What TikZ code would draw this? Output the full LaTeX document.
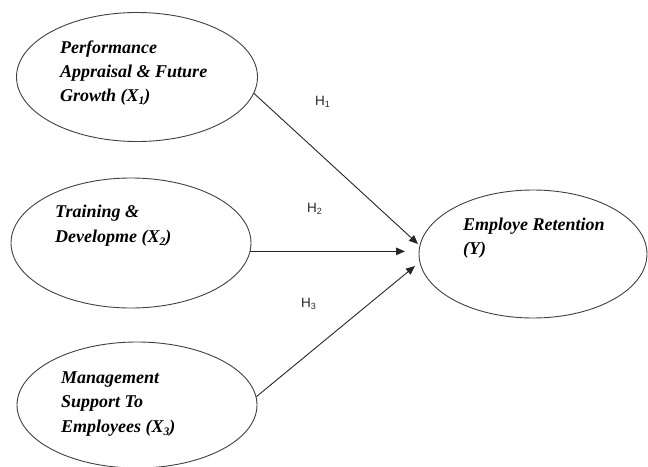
\documentclass[tikz,border=0pt]{standalone}
\usepackage{fontspec}
\setmainfont{Liberation Serif}
\newfontfamily\hfont{Liberation Sans}
\usetikzlibrary{arrows.meta,shapes.geometric}
\newcommand\subsc[1]{\raisebox{-0.22em}{\fontsize{11.5}{11.5}\selectfont #1}}
\newcommand\hsub[1]{\raisebox{-0.2em}{\fontsize{9}{9}\selectfont #1}}
\begin{document}
\begin{tikzpicture}[x=1pt,y=-1pt,
  ell/.style={draw=black!75, line width=0.9pt, ellipse, inner sep=0pt},
  txt/.style={anchor=base west, inner sep=0pt, font=\fontsize{18}{21}\selectfont\bfseries\itshape},
  hlab/.style={anchor=base west, inner sep=0pt, text=black!85, font=\fontsize{13.5}{15}\selectfont\hfont},
  arr/.style={draw=black!85, line width=0.9pt, -{Triangle[length=9pt,width=7.5pt]}}]
\useasboundingbox (0,0) rectangle (648,466);
% ellipses
\node[ell, minimum width=241pt, minimum height=129pt] (e1) at (137,77) {};
\node[ell, minimum width=240pt, minimum height=130pt] (e2) at (131,243) {};
\node[ell, minimum width=240pt, minimum height=126pt] (e3) at (137,405) {};
\node[ell, minimum width=228pt, minimum height=128pt] (e4) at (533,254) {};
% texts
\node[txt] (a1) at (60,53) {Performance};
\node[txt] (a2) at (60,77) {Appraisal \& Future};
\node[txt] (a3) at (60,101) {Growth (X\subsc{1})};
\node[txt] (b1) at (55,217) {Training \&};
\node[txt] (b2) at (55,242) {Developme (X\subsc{2})};
\node[txt] (c1) at (61,383) {Management};
\node[txt] (c2) at (61,407) {Support To};
\node[txt] (c3) at (61,432) {Employees (X\subsc{3})};
\node[txt] (d1) at (463,230) {Employe Retention};
\node[txt] (d2) at (463,254) {(Y)};
% hypothesis labels
\node[hlab] (h1) at (315,105) {H\hsub{1}};
\node[hlab] (h2) at (307,212) {H\hsub{2}};
\node[hlab] (h3) at (301,307) {H\hsub{3}};
% arrow endpoints
\coordinate (t1) at (418,244);
\coordinate (t2) at (405,253);
\coordinate (t3) at (415,266);
\draw[arr] (e1.-8.5) -- (t1);
\draw[arr] (e2.-4.8) -- (e2.-4.8 -| t2);
\draw[arr] (e3.4.3) -- (t3);
\end{tikzpicture}
\end{document}
